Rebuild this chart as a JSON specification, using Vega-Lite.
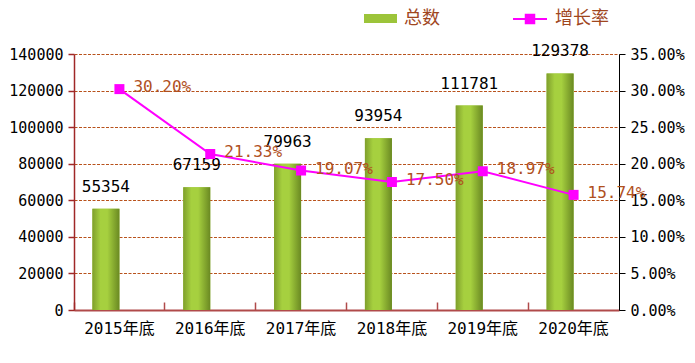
{
  "$schema": "https://vega.github.io/schema/vega-lite/v6.json",
  "width": 545,
  "height": 256,
  "autosize": {"type": "none"},
  "padding": {"left": 74, "top": 54, "right": 76, "bottom": 53},
  "background": "white",
  "config": {"view": {"stroke": null}, "font": "DejaVu Sans Mono"},
  "data": {
    "values": [
      {"year": "2015年底", "total": 55354, "rate": 0.3020},
      {"year": "2016年底", "total": 67159, "rate": 0.2133},
      {"year": "2017年底", "total": 79963, "rate": 0.1907},
      {"year": "2018年底", "total": 93954, "rate": 0.1750},
      {"year": "2019年底", "total": 111781, "rate": 0.1897},
      {"year": "2020年底", "total": 129378, "rate": 0.1574}
    ]
  },
  "layer": [
    {
      "encoding": {
        "x": {
          "field": "year", "type": "nominal", "sort": null,
          "scale": {"paddingInner": 0, "paddingOuter": 0},
          "axis": {
            "orient": "bottom", "title": null, "labelAngle": 0,
            "labelFont": "DejaVu Sans Mono, Noto Sans CJK SC", "labelFontSize": 16, "labelColor": "#000000",
            "labelPadding": 10, "ticks": false, "domainColor": "#b04a4a", "domainWidth": 2, "grid": false
          }
        },
        "y": {
          "field": "total", "type": "quantitative",
          "scale": {"domain": [0, 140000]},
          "axis": {
            "title": null, "values": [0, 20000, 40000, 60000, 80000, 100000, 120000, 140000], "format": "d",
            "labelFontSize": 15, "labelColor": "#000000", "labelPadding": 5,
            "domainColor": "#a02828", "domainWidth": 1.5, "tickColor": "#a02828", "tickSize": 6, "tickWidth": 1.5,
            "grid": true, "gridColor": "#b8521c", "gridDash": [3, 1.5], "gridWidth": 1.2
          }
        }
      },
      "layer": [
        {
          "mark": {"type": "bar", "width": 27, "xOffset": -13.5},
          "encoding": {
            "color": {
              "datum": "总数", "type": "nominal",
              "scale": {"range": ["#9cc43a"]},
              "legend": {
                "title": null, "orient": "none", "legendX": 290, "legendY": -52, "padding": 0,
                "symbolType": "M-1,-0.28H1V0.28H-1Z", "symbolSize": 1089, "symbolStrokeWidth": 0,
                "labelFont": "Noto Sans CJK SC", "labelFontSize": 18, "labelColor": "#a0461e", "labelOffset": 7
              }
            }
          }
        },
        {
          "mark": {
            "type": "bar", "width": 27, "xOffset": -13.5,
            "fill": {
              "gradient": "linear", "x1": 0, "y1": 0, "x2": 1, "y2": 0,
              "stops": [
                {"offset": 0, "color": "#7f9f2c"},
                {"offset": 0.3, "color": "#a6d03f"},
                {"offset": 0.55, "color": "#a6d03f"},
                {"offset": 1, "color": "#6a8922"}
              ]
            }
          }
        },
        {
          "mark": {"type": "text", "xOffset": -13.5, "dy": -17, "baseline": "alphabetic", "fontSize": 16, "color": "#000000", "font": "DejaVu Sans Mono"},
          "encoding": {"text": {"field": "total", "type": "quantitative", "format": "d"}}
        }
      ]
    },
    {
      "encoding": {
        "x": {
          "field": "year", "type": "nominal", "sort": null,
          "scale": {"paddingInner": 0, "paddingOuter": 0},
          "axis": {
            "orient": "bottom", "title": null, "labels": false, "domain": false, "grid": false,
            "ticks": true, "tickSize": -8, "tickColor": "#b04a4a", "tickWidth": 1.5, "bandPosition": 0
          }
        },
        "y": {
          "field": "rate", "type": "quantitative",
          "scale": {"domain": [0, 0.35]},
          "axis": {
            "orient": "right", "title": null, "values": [0, 0.05, 0.1, 0.15, 0.2, 0.25, 0.3, 0.35], "format": ".2%",
            "labelFontSize": 15, "labelColor": "#000000", "labelPadding": 5,
            "domainColor": "#000000", "tickColor": "#000000", "tickSize": 6, "grid": false
          }
        }
      },
      "layer": [
        {
          "mark": {"type": "line", "strokeWidth": 2},
          "encoding": {
            "color": {
              "datum": "增长率", "type": "nominal",
              "scale": {"range": ["#ff00ff"]},
              "legend": {
                "title": null, "orient": "none", "legendX": 438, "legendY": -53, "padding": 0,
                "symbolType": "M-1,0H1M-0.25,-0.25H0.25V0.25H-0.25Z", "symbolSize": 1156, "symbolStrokeWidth": 2,
                "symbolFillColor": "#ff00ff",
                "labelFont": "Noto Sans CJK SC", "labelFontSize": 18, "labelColor": "#a0461e", "labelOffset": 7
              }
            }
          }
        },
        {
          "mark": {"type": "point", "shape": "square", "filled": true, "size": 100, "color": "#ff00ff", "opacity": 1}
        },
        {
          "mark": {"type": "text", "align": "left", "baseline": "middle", "dx": 14, "dy": -2, "fontSize": 16, "color": "#b0501e", "font": "DejaVu Sans Mono"},
          "encoding": {"text": {"field": "rate", "type": "quantitative", "format": ".2%"}}
        }
      ]
    }
  ],
  "resolve": {
    "scale": {"y": "independent", "color": "independent"},
    "axis": {"x": "independent", "y": "independent"},
    "legend": {"color": "independent"}
  }
}
